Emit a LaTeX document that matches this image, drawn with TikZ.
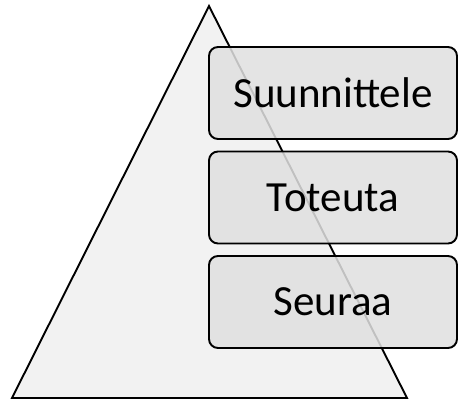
\documentclass[tikz,border=0pt]{standalone}
\usepackage{fontspec}
\setmainfont{Carlito}
\usetikzlibrary{positioning}
\definecolor{trigray}{HTML}{F2F2F2}
\definecolor{boxgray}{HTML}{E0E0E0}
\tikzset{
  stage/.style={draw, line width=1.9pt, rounded corners=9pt, fill=boxgray,
    fill opacity=0.86, text opacity=1, minimum width=248pt, minimum height=92pt,
    inner sep=0pt, outer sep=0pt, font=\fontsize{43}{50}\selectfont}
}
\begin{document}
\begin{tikzpicture}[x=1pt,y=-1pt]
        \useasboundingbox (0,0) rectangle (458,403);
        \coordinate (apex) at (209,6);
        \coordinate (bl) at (12,398);
        \coordinate (br) at (407,398);
        \filldraw[fill=trigray, line width=1.9pt, line join=miter] (apex) -- (br) -- (bl) -- cycle;
        \node[stage] (plan) at (333,93) {Suunnittele};
        \node[stage, below=12.5pt of plan] (do) {Toteuta};
        \node[stage, below=12.5pt of do] (follow) {Seuraa};
\end{tikzpicture}
\end{document}
